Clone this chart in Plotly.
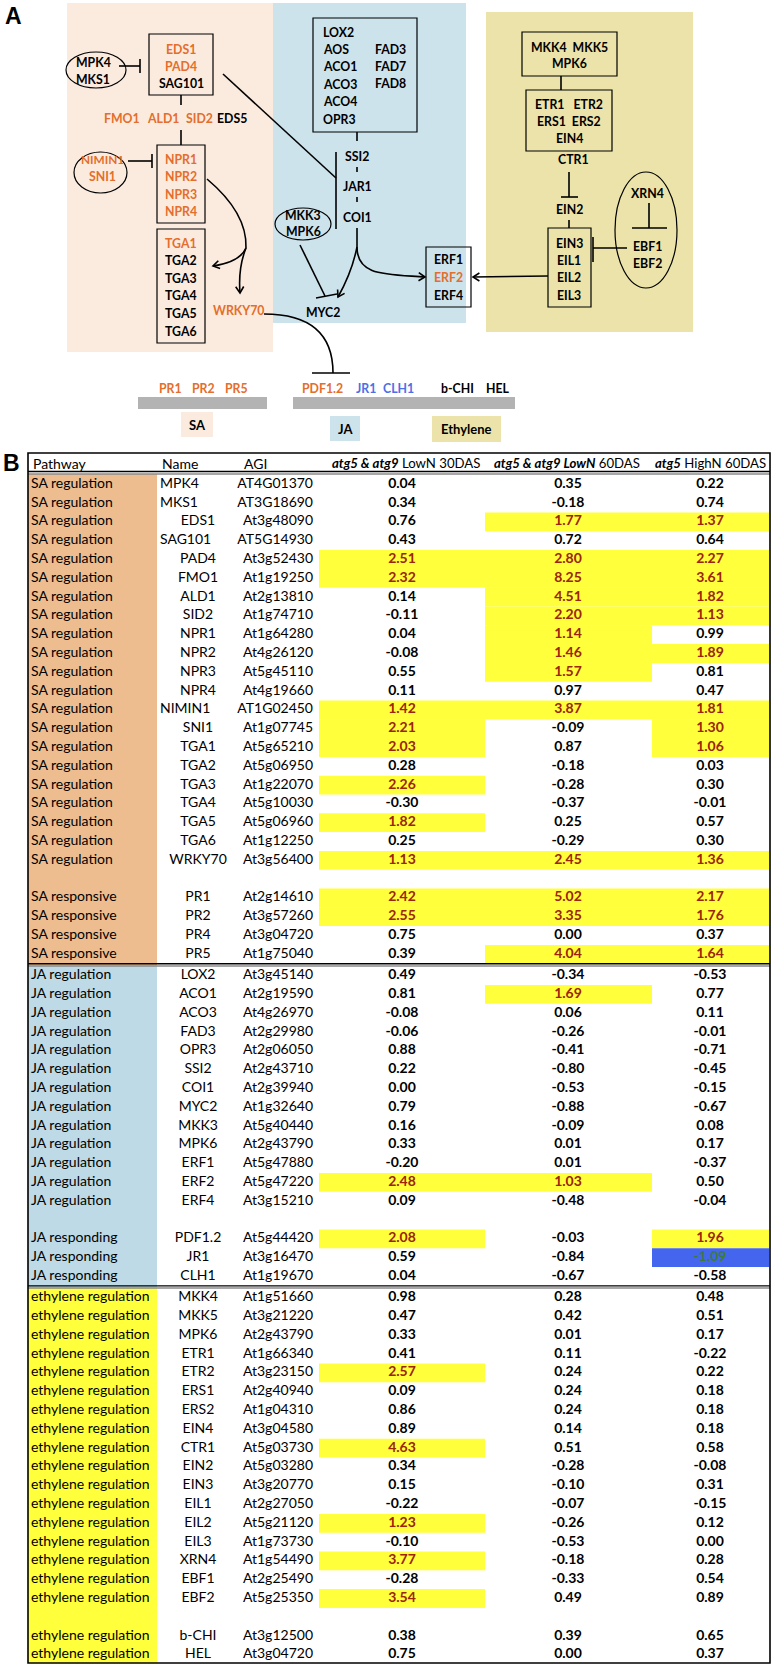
import math
import plotly.graph_objects as go

# ======================= DATA (panel B table) =======================
pathway = (["SA regulation"] * 21 + [""] + ["SA responsive"] * 4 +
           ["JA regulation"] * 13 + [""] + ["JA responding"] * 3 +
           ["ethylene regulation"] * 17 + [""] + ["ethylene regulation"] * 2)

names = ["MPK4", "MKS1", "EDS1", "SAG101", "PAD4", "FMO1", "ALD1", "SID2", "NPR1", "NPR2",
         "NPR3", "NPR4", "NIMIN1", "SNI1", "TGA1", "TGA2", "TGA3", "TGA4", "TGA5", "TGA6",
         "WRKY70", "", "PR1", "PR2", "PR4", "PR5",
         "LOX2", "ACO1", "ACO3", "FAD3", "OPR3", "SSI2", "COI1", "MYC2", "MKK3", "MPK6",
         "ERF1", "ERF2", "ERF4", "", "PDF1.2", "JR1", "CLH1",
         "MKK4", "MKK5", "MPK6", "ETR1", "ETR2", "ERS1", "ERS2", "EIN4", "CTR1", "EIN2",
         "EIN3", "EIL1", "EIL2", "EIL3", "XRN4", "EBF1", "EBF2", "", "b-CHI", "HEL"]

agi = ["AT4G01370", "AT3G18690", "At3g48090", "AT5G14930", "At3g52430", "At1g19250",
       "At2g13810", "At1g74710", "At1g64280", "At4g26120", "At5g45110", "At4g19660",
       "AT1G02450", "At1g07745", "At5g65210", "At5g06950", "At1g22070", "At5g10030",
       "At5g06960", "At1g12250", "At3g56400", "", "At2g14610", "At3g57260", "At3g04720",
       "At1g75040",
       "At3g45140", "At2g19590", "At4g26970", "At2g29980", "At2g06050", "At2g43710",
       "At2g39940", "At1g32640", "At5g40440", "At2g43790", "At5g47880", "At5g47220",
       "At3g15210", "", "At5g44420", "At3g16470", "At1g19670",
       "At1g51660", "At3g21220", "At2g43790", "At1g66340", "At3g23150", "At2g40940",
       "At1g04310", "At3g04580", "At5g03730", "At5g03280", "At3g20770", "At2g27050",
       "At5g21120", "At1g73730", "At1g54490", "At2g25490", "At5g25350", "", "At3g12500",
       "At3g04720"]

lowN30 = [0.04, 0.34, 0.76, 0.43, 2.51, 2.32, 0.14, -0.11, 0.04, -0.08, 0.55, 0.11, 1.42,
          2.21, 2.03, 0.28, 2.26, -0.30, 1.82, 0.25, 1.13, None, 2.42, 2.55, 0.75, 0.39,
          0.49, 0.81, -0.08, -0.06, 0.88, 0.22, 0.00, 0.79, 0.16, 0.33, -0.20, 2.48, 0.09,
          None, 2.08, 0.59, 0.04,
          0.98, 0.47, 0.33, 0.41, 2.57, 0.09, 0.86, 0.89, 4.63, 0.34, 0.15, -0.22, 1.23,
          -0.10, 3.77, -0.28, 3.54, None, 0.38, 0.75]

lowN60 = [0.35, -0.18, 1.77, 0.72, 2.80, 8.25, 4.51, 2.20, 1.14, 1.46, 1.57, 0.97, 3.87,
          -0.09, 0.87, -0.18, -0.28, -0.37, 0.25, -0.29, 2.45, None, 5.02, 3.35, 0.00, 4.04,
          -0.34, 1.69, 0.06, -0.26, -0.41, -0.80, -0.53, -0.88, -0.09, 0.01, 0.01, 1.03,
          -0.48, None, -0.03, -0.84, -0.67,
          0.28, 0.42, 0.01, 0.11, 0.24, 0.24, 0.24, 0.14, 0.51, -0.28, -0.10, -0.07, -0.26,
          -0.53, -0.18, -0.33, 0.49, None, 0.39, 0.00]

highN60 = [0.22, 0.74, 1.37, 0.64, 2.27, 3.61, 1.82, 1.13, 0.99, 1.89, 0.81, 0.47, 1.81,
           1.30, 1.06, 0.03, 0.30, -0.01, 0.57, 0.30, 1.36, None, 2.17, 1.76, 0.37, 1.64,
           -0.53, 0.77, 0.11, -0.01, -0.71, -0.45, -0.15, -0.67, 0.08, 0.17, -0.37, 0.50,
           -0.04, None, 1.96, -1.09, -0.58,
           0.48, 0.51, 0.17, -0.22, 0.22, 0.18, 0.18, 0.18, 0.58, -0.08, 0.31, -0.15, 0.12,
           0.00, 0.28, 0.54, 0.89, None, 0.65, 0.37]

header_cols = ["Pathway", "Name", "AGI",
               "<b><i>atg5 &amp; atg9</i></b> LowN 30DAS",
               "<b><i>atg5 &amp; atg9 LowN</i></b> 60DAS",
               "<b><i>atg5</i></b> HighN 60DAS"]

# names typed left-aligned in the source spreadsheet
left_names = ["MPK4", "MKS1", "SAG101", "NIMIN1"]

# ======================= STYLE / LAYOUT =======================
W, H = 773, 1667
FONT = "Lato"
BLACK = "#000000"
ORANGE = "#E46E2B"
BLUE_T = "#4B6FE6"
SA_BG, JA_BG, ET_BG = "#FBEBDF", "#CDE3EC", "#EBE3A9"
GROUP_FILL = {"SA": "#EDBD8F", "JA": "#BDDAE6", "ethylene": "#FFFF3C"}
HI_FILL, HI_TEXT = "#FFFF3C", "#9B2409"
LO_FILL, LO_TEXT = "#4466EE", "#3C7A3C"

ROW_H = 18.8
FIRST_Y = 484.3
GROUP_GAP = 2.5
T_LEFT, T_RIGHT, T_TOP, T_BOTTOM = 28, 770, 453, 1663
HEADER_Y = 463
PATH_X1 = 157
COLS = [(319, 485), (485, 652), (652, 769)]
VAL_CX = [402, 568, 710]

shapes, anns = [], []


def line(x0, y0, x1, y1, w=1.6, color=BLACK):
    shapes.append(dict(type="line", xref="x", yref="y", x0=x0, y0=y0, x1=x1, y1=y1,
                       line=dict(color=color, width=w)))


def rect(x0, y0, x1, y1, fill=None, lc=BLACK, lw=1.2, layer="above"):
    shapes.append(dict(type="rect", xref="x", yref="y", x0=x0, y0=y0, x1=x1, y1=y1,
                       fillcolor=fill or "rgba(0,0,0,0)",
                       line=dict(color=lc, width=lw), layer=layer))


def ellipse(x0, y0, x1, y1, lw=1.2):
    shapes.append(dict(type="circle", xref="x", yref="y", x0=x0, y0=y0, x1=x1, y1=y1,
                       line=dict(color=BLACK, width=lw)))


def path(d, w=1.6):
    shapes.append(dict(type="path", xref="x", yref="y", path=d,
                       line=dict(color=BLACK, width=w)))


def head(tip, frm, L=7.5, ang=32):
    dx, dy = tip[0] - frm[0], tip[1] - frm[1]
    n = math.hypot(dx, dy)
    ux, uy = dx / n, dy / n
    pts = []
    for s in (1, -1):
        a = math.radians(ang) * s
        rx = ux * math.cos(a) - uy * math.sin(a)
        ry = ux * math.sin(a) + uy * math.cos(a)
        pts.append((tip[0] - L * rx, tip[1] - L * ry))
    path(f"M {pts[0][0]:.1f} {pts[0][1]:.1f} L {tip[0]} {tip[1]} L {pts[1][0]:.1f} {pts[1][1]:.1f}")


def label(x, y, text, color=BLACK, size=12.3, anchor="center", bold=True, family=FONT):
    anns.append(dict(x=x, y=y, xref="x", yref="y", text=f"<b>{text}</b>" if bold else text,
                     showarrow=False, xanchor=anchor, yanchor="middle",
                     font=dict(family=family, size=size, color=color)))


# ======================= PANEL A : pathway diagram =======================
label(13, 16, "A", size=23, family="Liberation Sans")
# backgrounds
rect(67, 3, 273, 352, fill=SA_BG, lw=0, lc=SA_BG, layer="below")
rect(273, 3, 466, 323, fill=JA_BG, lw=0, lc=JA_BG, layer="below")
rect(486, 12, 693, 332, fill=ET_BG, lw=0, lc=ET_BG, layer="below")

# ---- SA block
rect(149, 34, 213, 95)
for t, y, c in [("EDS1", 49, ORANGE), ("PAD4", 66, ORANGE), ("SAG101", 83, BLACK)]:
    label(181, y, t, c)
ellipse(66, 52, 126, 88)
label(93, 62, "MPK4"); label(93, 79, "MKS1")
line(119, 66, 140, 66); line(140, 59, 140, 73)
line(181, 95, 181, 105)
for t, x, c in [("FMO1", 122, ORANGE), ("ALD1", 163, ORANGE), ("SID2", 199, ORANGE), ("EDS5", 232, BLACK)]:
    label(x, 118, t, c)
line(181, 130, 181, 145)
rect(157, 145, 205, 223)
for i, t in enumerate(["NPR1", "NPR2", "NPR3", "NPR4"]):
    label(181, 159 + i * 17.6, t, ORANGE)
ellipse(74, 152, 127, 193)
label(102, 159, "NIMIN1", ORANGE, size=11.8); label(102, 176, "SNI1", ORANGE)
line(128, 161, 152, 161); line(152, 154, 152, 168)
rect(157, 229, 205, 343)
for i, t in enumerate(["TGA1", "TGA2", "TGA3", "TGA4", "TGA5", "TGA6"]):
    label(181, 243 + i * 17.6, t, ORANGE if i == 0 else BLACK)
path("M 207 179 C 232 200, 247 222, 246 248")
path("M 246 248 Q 240 262, 213 266")
head((213, 266), (226, 263))
path("M 246 248 Q 238 268, 240 293")
head((240, 293), (239.5, 282))
label(239, 310, "WRKY70", ORANGE)
path("M 264 314 C 305 314, 333 330, 333 373")
line(312, 373, 350, 373)

# ---- JA block
rect(313, 18, 417, 132)
for i, t in enumerate(["LOX2", "AOS", "ACO1", "ACO3", "ACO4", "OPR3"]):
    label(321, 32 + i * 17.4, t, anchor="left")
for i, t in enumerate(["FAD3", "FAD7", "FAD8"]):
    label(373, 49 + i * 17.4, t, anchor="left")
line(357, 132, 357, 141)
label(357, 156, "SSI2")
line(357, 167, 357, 172)
label(357, 186, "JAR1")
line(357, 197, 357, 202)
label(357, 217, "COI1")
line(357, 228, 357, 247)
line(336, 152, 336, 229)
line(223, 74, 336, 178)
ellipse(275, 208, 331, 240)
label(303, 215, "MKK3"); label(303, 231, "MPK6")
line(300, 245, 325, 296)
line(316, 298, 337, 294)
path("M 357 247 Q 352 272, 338 297")
head((338, 297), (343, 288))
path("M 357 247 C 357 276, 385 274, 425 277")
head((425, 277), (414, 276.5))
label(323, 312, "MYC2")
rect(426, 247, 471, 307)
label(448, 259, "ERF1"); label(448, 277, "ERF2", ORANGE); label(448, 295, "ERF4")
line(548, 276, 473, 277)
head((473, 277), (484, 277))

# ---- Ethylene block
rect(522, 32, 617, 76)
label(569, 47, "MKK4  MKK5"); label(569, 63, "MPK6")
line(561, 76, 561, 90)
rect(526, 90, 612, 151)
label(569, 104, "ETR1   ETR2"); label(569, 121, "ERS1  ERS2"); label(569, 138, "EIN4")
label(573, 159, "CTR1")
line(569, 172, 569, 197); line(561, 197, 578, 197)
label(569, 209, "EIN2")
line(569, 220, 569, 228)
rect(548, 228, 591, 307)
for i, t in enumerate(["EIN3", "EIL1", "EIL2", "EIL3"]):
    label(569, 243 + i * 17.4, t)
ellipse(615, 172, 677, 288)
label(647, 193, "XRN4")
line(649, 203, 649, 228); line(632, 228, 667, 228)
label(647, 246, "EBF1"); label(647, 263, "EBF2")
line(627, 248, 593, 248); line(593, 237, 593, 262)

# ---- bottom marker genes
rect(138, 397, 267, 409, fill="#B3B3B3", lw=0, lc="#B3B3B3")
rect(293, 397, 515, 409, fill="#B3B3B3", lw=0, lc="#B3B3B3")
for t, x, c in [("PR1", 170, ORANGE), ("PR2", 203, ORANGE), ("PR5", 236, ORANGE),
                ("PDF1.2", 322, ORANGE), ("JR1", 366, BLUE_T), ("CLH1", 398, BLUE_T),
                ("b-CHI", 457, BLACK), ("HEL", 498, BLACK)]:
    label(x, 388, t, c)
rect(181, 412, 213, 437, fill=SA_BG, lw=0, lc=SA_BG)
rect(330, 416, 360, 441, fill=JA_BG, lw=0, lc=JA_BG)
rect(432, 416, 501, 442, fill=ET_BG, lw=0, lc=ET_BG)
label(197, 425, "SA", size=13); label(345, 429, "JA", size=13); label(466, 429, "Ethylene", size=13)

# ======================= PANEL B : table =======================
label(11, 463, "B", size=23, family="Liberation Sans")

# row positions
row_y, row_grp = [], []
y, cur = FIRST_Y, None
for p in pathway:
    key = p.split()[0] if p else cur
    if cur is not None and key != cur:
        y += GROUP_GAP
    row_y.append(y)
    row_grp.append(key)
    cur = key
    y += ROW_H

# group spans
order = []
for g in row_grp:
    if g not in order:
        order.append(g)
bounds = [474]
for a, b in zip(order[:-1], order[1:]):
    last = max(i for i, g in enumerate(row_grp) if g == a)
    first = min(i for i, g in enumerate(row_grp) if g == b)
    bounds.append((row_y[last] + row_y[first]) / 2)
bounds.append(T_BOTTOM)
for k, g in enumerate(order):
    rect(T_LEFT, bounds[k], PATH_X1, bounds[k + 1], fill=GROUP_FILL[g], lw=0,
         lc=GROUP_FILL[g], layer="below")

# conditional highlight cells
series = [lowN30, lowN60, highN60]
for ci, vals in enumerate(series):
    x0, x1 = COLS[ci]
    for i, v in enumerate(vals):
        if v is None:
            continue
        if v >= 1:
            rect(x0, row_y[i] - ROW_H / 2, x1, row_y[i] + ROW_H / 2, fill=HI_FILL, lw=0,
                 lc=HI_FILL, layer="below")
        elif v <= -1:
            rect(x0, row_y[i] - ROW_H / 2, x1, row_y[i] + ROW_H / 2, fill=LO_FILL, lw=0,
                 lc=LO_FILL, layer="below")

# separators and border
line(T_LEFT, 471.5, T_RIGHT, 471.5, w=1.3)
line(T_LEFT, 474, T_RIGHT, 474, w=1.5, color="#8A8A8A")
for b in bounds[1:-1]:
    line(T_LEFT, b - 1.2, T_RIGHT, b - 1.2, w=1.3)
    line(T_LEFT, b + 1.0, T_RIGHT, b + 1.0, w=1.5, color="#8A8A8A")
rect(T_LEFT, T_TOP, T_RIGHT, T_BOTTOM, lw=1.6)

# header
hx = [31, 160, 242]
for x, t in zip(hx, header_cols[:3]):
    label(x, HEADER_Y, t, anchor="left", bold=False, size=14)
for (x, anc), t in zip([(482, "right"), (567, "center"), (768, "right")], header_cols[3:]):
    label(x, HEADER_Y, t, bold=False, size=13.2, anchor=anc)

traces = []
tf = dict(family=FONT, size=14, color=BLACK)
# pathway column
traces.append(go.Scatter(x=[31] * len(pathway), y=row_y, text=pathway, mode="text",
                         textposition="middle right", textfont=tf, hoverinfo="skip"))
# name column
left_idx = [i for i, n in enumerate(names) if n in left_names]
ctr_idx = [i for i, n in enumerate(names) if n not in left_names]
traces.append(go.Scatter(x=[160] * len(left_idx), y=[row_y[i] for i in left_idx],
                         text=[names[i] for i in left_idx], mode="text",
                         textposition="middle right", textfont=tf, hoverinfo="skip"))
traces.append(go.Scatter(x=[198] * len(ctr_idx), y=[row_y[i] for i in ctr_idx],
                         text=[names[i] for i in ctr_idx], mode="text",
                         textposition="middle center", textfont=tf, hoverinfo="skip"))
# AGI column (right aligned)
traces.append(go.Scatter(x=[313] * len(agi), y=row_y, text=agi, mode="text",
                         textposition="middle left", textfont=tf, hoverinfo="skip"))
# value columns
for ci, vals in enumerate(series):
    txt, col = [], []
    for v in vals:
        if v is None:
            txt.append(""); col.append(BLACK)
        else:
            txt.append(f"<b>{v:.2f}</b>")
            col.append(HI_TEXT if v >= 1 else (LO_TEXT if v <= -1 else BLACK))
    traces.append(go.Scatter(x=[VAL_CX[ci]] * len(vals), y=row_y, text=txt, mode="text",
                             textposition="middle center",
                             textfont=dict(family=FONT, size=14, color=col),
                             hoverinfo="skip"))

fig = go.Figure(traces)
fig.update_layout(
    width=W, height=H, margin=dict(l=0, r=0, t=0, b=0),
    paper_bgcolor="white", plot_bgcolor="white", showlegend=False,
    xaxis=dict(range=[0, W], visible=False, fixedrange=True),
    yaxis=dict(range=[H, 0], visible=False, fixedrange=True),
    shapes=shapes, annotations=anns,
)
fig.write_html("out.html", config={"displayModeBar": False},
               post_script="document.body.style.margin='0';")
